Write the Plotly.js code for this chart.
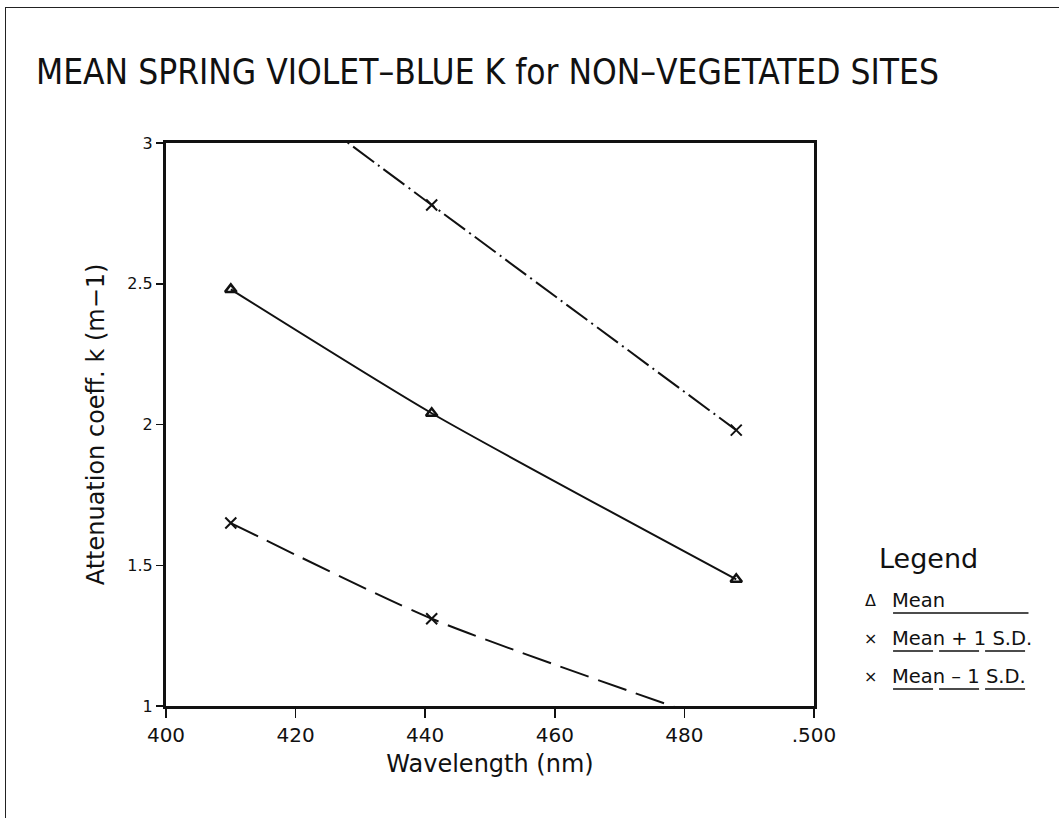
<!DOCTYPE html>
<html>
<head>
<meta charset="utf-8">
<script src="https://cdn.plot.ly/plotly-3.0.1.min.js"></script>
<style>
  html, body { margin: 0; padding: 0; background: #fff; }
  #wrap { position: relative; width: 1059px; height: 818px; overflow: hidden; }
  #frame { position: absolute; left: 5px; top: 7px; width: 1100px; height: 900px;
           border-left: 1px solid #222; border-top: 1px solid #222; pointer-events: none; }
  #chart { position: absolute; left: 0; top: 0; width: 1059px; height: 818px; }
</style>
</head>
<body>
<div id="wrap">
  <div id="chart"></div>
  <div id="frame"></div>
</div>
<script>
// Wavelengths (nm) of the three violet-blue bands
const wavelength = [410, 441, 488];
// Mean attenuation coefficient k (m-1) and the +/- one standard deviation bounds
const kMean = [2.48, 2.04, 1.45];
const kPlusSD = [3.31, 2.78, 1.98];
const kMinusSD = [1.65, 1.31, 0.92];

const seriesNames = ['Mean', 'Mean + 1 S.D.', 'Mean \u2013 1 S.D.'];
const xTicks = [400, 420, 440, 460, 480, 500];
const xTickText = ['400', '420', '440', '460', '480', '.500'];
const yTicks = [1, 1.5, 2, 2.5, 3];
const yTickText = ['1', '1.5', '2', '2.5', '3'];

const ink = '#111';
const narrowFont = '"DejaVu Sans Condensed", "Liberation Sans", sans-serif';
const wideFont = '"DejaVu Sans", "Liberation Sans", sans-serif';

const traces = [
  {
    x: wavelength, y: kMean, name: seriesNames[0], mode: 'lines+markers',
    line: { color: ink, width: 2, shape: 'spline', smoothing: 0.6 },
    marker: { symbol: 'triangle-up-open', size: 10, color: ink, line: { width: 2.5, color: ink } },
    cliponaxis: true
  },
  {
    x: wavelength, y: kPlusSD, name: seriesNames[1], mode: 'lines+markers',
    line: { color: ink, width: 2, shape: 'spline', smoothing: 0.6, dash: '26px,5px,2px,5px' },
    marker: { symbol: 'x-thin-open', size: 11, color: ink, line: { width: 2, color: ink } },
    cliponaxis: true
  },
  {
    x: wavelength, y: kMinusSD, name: seriesNames[2], mode: 'lines+markers',
    line: { color: ink, width: 2, shape: 'spline', smoothing: 0.6, dash: '30px,10px' },
    marker: { symbol: 'x-thin-open', size: 11, color: ink, line: { width: 2, color: ink } },
    cliponaxis: true
  }
];

// Legend block: heading, then symbol + label with an underline in each series' line style
const annotations = [
  { xref: 'paper', yref: 'paper', x: 1.177, y: 0.262, xanchor: 'center', yanchor: 'middle',
    text: 'Legend', showarrow: false, font: { family: wideFont, size: 27, color: ink } }
];
const symbols = ['\u0394', '\u00d7', '\u00d7'];
const underlineDash = ['solid', '40px,6px', '40px,6px'];
const shapes = [];
seriesNames.forEach((name, i) => {
  const yy = 0.188 - i * 0.0675;
  annotations.push({ xref: 'paper', yref: 'paper', x: 1.087, y: yy, xanchor: 'center', yanchor: 'middle',
    text: symbols[i], showarrow: false, font: { family: wideFont, size: 16, color: ink } });
  annotations.push({ xref: 'paper', yref: 'paper', x: 1.117, y: yy, xanchor: 'left', yanchor: 'middle',
    text: name, showarrow: false, font: { family: wideFont, size: 19.5, color: ink } });
  shapes.push({ type: 'line', xref: 'paper', yref: 'paper', x0: 1.122, x1: 1.331, y0: yy - 0.023, y1: yy - 0.023,
    line: { color: ink, width: 1.5, dash: underlineDash[i] } });
});

const layout = {
  width: 1059, height: 818,
  margin: { l: 166, r: 245, t: 143, b: 112 },
  paper_bgcolor: '#fff', plot_bgcolor: '#fff',
  showlegend: false,
  title: {
    text: 'MEAN SPRING VIOLET\u2013BLUE K for NON\u2013VEGETATED SITES',
    x: 0.034, xanchor: 'left', y: 0.912, yanchor: 'middle',
    font: { family: narrowFont, size: 35, color: ink }
  },
  xaxis: {
    range: [400, 500], tickvals: xTicks, ticktext: xTickText,
    showline: true, linecolor: ink, linewidth: 3, mirror: true,
    ticks: 'outside', ticklen: 9, tickwidth: 1.5, tickcolor: ink,
    showgrid: false, zeroline: false,
    tickfont: { family: wideFont, size: 20, color: ink },
    title: { text: 'Wavelength (nm)', standoff: 10, font: { family: wideFont, size: 24, color: ink } }
  },
  yaxis: {
    range: [1, 3], tickvals: yTicks, ticktext: yTickText,
    showline: true, linecolor: ink, linewidth: 3, mirror: true,
    ticks: 'outside', ticklen: 7, tickwidth: 1.5, tickcolor: ink,
    showgrid: false, zeroline: false,
    tickfont: { family: wideFont, size: 16, color: ink },
    title: { text: 'Attenuation coeff. k (m\u22121)', standoff: 16, font: { family: wideFont, size: 24, color: ink } }
  },
  annotations: annotations,
  shapes: shapes
};

Plotly.newPlot('chart', traces, layout, { displayModeBar: false, staticPlot: true });
</script>
</body>
</html>
